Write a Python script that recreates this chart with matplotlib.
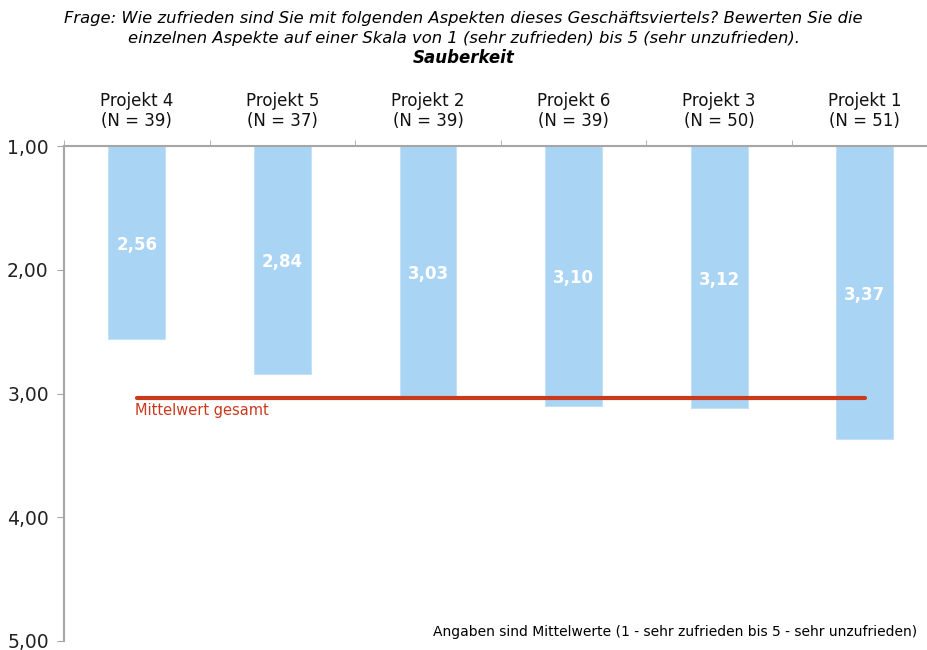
import matplotlib.pyplot as plt
import numpy as np

projects = ["Projekt 4", "Projekt 5", "Projekt 2", "Projekt 6", "Projekt 3", "Projekt 1"]
n_counts = [39, 37, 39, 39, 50, 51]
means = [2.56, 2.84, 3.03, 3.10, 3.12, 3.37]
overall_mean = 3.04
y_ticks = [1, 2, 3, 4, 5]

BAR_COLOR = "#a9d4f4"
LINE_COLOR = "#c9391c"
AXIS_COLOR = "#a6a6a6"

plt.rcParams["font.family"] = "DejaVu Sans"

fig = plt.figure(figsize=(9.27, 6.5), dpi=100)
# axes run past the right edge of the figure, the last slot is cut off
ax = fig.add_axes([64 / 927, 1 - 641 / 650, 873.5 / 927, 495 / 650])

x = np.arange(len(projects))
base = 1.0
ax.bar(x, [m - base for m in means], bottom=base, width=0.39, color=BAR_COLOR,
       edgecolor="#c4e1f7", linewidth=0.8, zorder=2)

for xi, m in zip(x, means):
    ax.text(xi, (base + m) / 2 + 0.02, f"{m:.2f}".replace(".", ","), ha="center", va="center",
            color="white", fontsize=12, fontweight="bold", zorder=3)

ax.plot([x[0], x[-1]], [overall_mean, overall_mean], color=LINE_COLOR, lw=3,
        solid_capstyle="round", zorder=4)
ax.text(x[0] - 0.01, overall_mean + 0.04, "Mittelwert gesamt", color=LINE_COLOR,
        fontsize=10.5, ha="left", va="top")

ax.set_xlim(-0.5, len(projects) - 0.5)
ax.set_ylim(5, 1)
ax.set_yticks(y_ticks)
ax.set_yticklabels([f"{v:.2f}".replace(".", ",") for v in y_ticks], fontsize=13.5, color="#222222")

# category labels sit above the top spine
ax.set_xticks(np.arange(len(projects) + 1) - 0.5, minor=True)
ax.set_xticks([])
ax.tick_params(axis="x", which="minor", top=True, bottom=False, direction="out",
               length=4, color=AXIS_COLOR)
ax.tick_params(axis="y", direction="out", length=5, color=AXIS_COLOR, pad=6)
for xi, p, n in zip(x, projects, n_counts):
    ax.text(xi, 0.72, f"{p}\n(N = {n})", ha="center", va="center", fontsize=12,
            color="#111111", linespacing=1.15, clip_on=False)

for side in ["right", "bottom"]:
    ax.spines[side].set_visible(False)
for side in ["left", "top"]:
    ax.spines[side].set_color(AXIS_COLOR)
    ax.spines[side].set_linewidth(1.5)

fig.text(0.5, 1 - 18 / 650, "Frage: Wie zufrieden sind Sie mit folgenden Aspekten dieses Geschäftsviertels? Bewerten Sie die",
         ha="center", va="center", fontsize=11.8, style="italic")
fig.text(0.5, 1 - 38 / 650, "einzelnen Aspekte auf einer Skala von 1 (sehr zufrieden) bis 5 (sehr unzufrieden).",
         ha="center", va="center", fontsize=11.8, style="italic")
fig.text(0.5, 1 - 58 / 650, "Sauberkeit", ha="center", va="center", fontsize=12,
         style="italic", fontweight="bold")
fig.text(917 / 927, 1 - 632 / 650, "Angaben sind Mittelwerte (1 - sehr zufrieden bis 5 - sehr unzufrieden)",
         ha="right", va="center", fontsize=10)

fig.savefig("out.png", dpi=100)
